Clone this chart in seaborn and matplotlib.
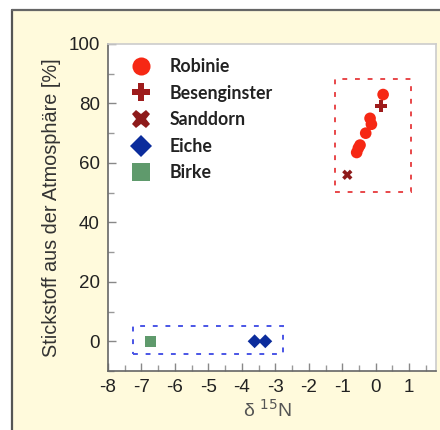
import matplotlib
matplotlib.use("Agg")
import matplotlib.pyplot as plt
from matplotlib.patches import Rectangle
from matplotlib.lines import Line2D
from matplotlib.ticker import MultipleLocator
import seaborn as sns
import pandas as pd

# ---- data ----
species = ["Robinie", "Besenginster", "Sanddorn", "Eiche", "Birke"]
robinie_x = [0.22, -0.17, -0.13, -0.30, -0.47, -0.52, -0.57]
robinie_y = [83, 75, 73, 70, 66, 65, 63.5]
besenginster_x = [0.15]
besenginster_y = [79]
sanddorn_x = [-0.85]
sanddorn_y = [56]
eiche_x = [-3.62, -3.30]
eiche_y = [0, 0]
birke_x = [-6.72]
birke_y = [0]
xticks = [-8, -7, -6, -5, -4, -3, -2, -1, 0, 1]
yticks = [0, 20, 40, 60, 80, 100]

colors = {"Robinie": "#F62814", "Besenginster": "#9E1C1C", "Sanddorn": "#8E1A1A",
          "Eiche": "#0B2C9C", "Birke": "#5F9A6C"}
markers = {"Robinie": "o", "Besenginster": "P", "Sanddorn": "X", "Eiche": "D", "Birke": "s"}
sizes = {"Robinie": 70, "Besenginster": 75, "Sanddorn": 55, "Eiche": 50, "Birke": 65}

rows = []
for name, xs, ys in [("Robinie", robinie_x, robinie_y), ("Besenginster", besenginster_x, besenginster_y),
                     ("Sanddorn", sanddorn_x, sanddorn_y), ("Eiche", eiche_x, eiche_y),
                     ("Birke", birke_x, birke_y)]:
    for x, y in zip(xs, ys):
        rows.append({"Art": name, "d15N": x, "Ndfa": y})
df = pd.DataFrame(rows)

sns.set_style("white")
plt.rcParams["font.family"] = ["Liberation Sans", "DejaVu Sans"]
plt.rcParams["axes.unicode_minus"] = False

fig = plt.figure(figsize=(4.4, 4.3), dpi=100, facecolor="white")
# beige panel with dark frame on left & top
W, H = 440, 430
fig.patches.append(Rectangle((12 / W, 0), 1 - 12 / W, 1 - 10 / H, transform=fig.transFigure,
                             facecolor="#FFFADC", edgecolor="none", zorder=-5))
fig.lines.append(Line2D([11.5 / W, 11.5 / W], [0, 1 - 9.5 / H], transform=fig.transFigure,
                        color="#555555", lw=1.6, zorder=-4))
fig.lines.append(Line2D([11.5 / W, 1], [1 - 9.5 / H, 1 - 9.5 / H], transform=fig.transFigure,
                        color="#666666", lw=1.6, zorder=-4))

ax = fig.add_axes([108 / W, 1 - 371 / H, (436 - 108) / W, (371 - 44) / H])
ax.set_zorder(5)
ax.set_facecolor("white")

for name in species:
    sub = df[df["Art"] == name]
    sns.scatterplot(data=sub, x="d15N", y="Ndfa", ax=ax, color=colors[name], marker=markers[name],
                    s=sizes[name], edgecolor="none", linewidth=0, legend=False, zorder=3)

# dashed group boxes
ax.add_patch(Rectangle((-1.22, 50.2), 2.28, 37.9, fill=False, edgecolor="#E8474A",
                       lw=1.4, linestyle=(0, (2.5, 4)), zorder=2))
ax.add_patch(Rectangle((-7.26, -4.4), 4.49, 9.4, fill=False, edgecolor="#4A55E6",
                       lw=1.4, linestyle=(0, (2.5, 4)), zorder=2))

ax.set_xlim(-8, 1.8)
ax.set_ylim(-10, 100)
ax.set_xticks(xticks)
ax.set_yticks(yticks)
ax.xaxis.set_minor_locator(MultipleLocator(0.5))
ax.yaxis.set_minor_locator(MultipleLocator(10))
ax.tick_params(axis="both", which="major", direction="in", length=6, width=1, color="#888888",
               labelsize=13.5, labelcolor="#222222", pad=6)
ax.tick_params(axis="both", which="minor", direction="in", length=4, width=1, color="#999999")
ax.tick_params(axis="x", which="both", bottom=True, top=False)
ax.tick_params(axis="y", which="both", left=True, right=False)

for side in ["left", "bottom"]:
    ax.spines[side].set_color("#666666")
    ax.spines[side].set_linewidth(1.2)
for side in ["top", "right"]:
    ax.spines[side].set_color("#CCCCCC")
    ax.spines[side].set_linewidth(1.2)

ax.set_ylabel("Stickstoff aus der Atmosphäre [%]", fontsize=14.3, color="#333333", labelpad=5)
ax.set_xlabel("δ $^{15}$N", fontsize=14, color="#555555", labelpad=3)
ax.xaxis.set_label_coords((267 - 108) / (436 - 108), -0.085)

handles = [Line2D([], [], linestyle="none", marker=markers[n], color=colors[n],
                  markersize=13 if n != "Eiche" else 11, markeredgewidth=0) for n in species]
leg = ax.legend(handles, species, loc="upper left", bbox_to_anchor=(0.015, 0.99), frameon=False,
                handletextpad=0.6, labelspacing=0.54, borderaxespad=0.2,
                prop={"family": ["Lato", "DejaVu Sans"], "weight": "bold", "size": 12.8})
for t in leg.get_texts():
    t.set_color("#222222")

fig.savefig("out.png", dpi=100, facecolor="white")
